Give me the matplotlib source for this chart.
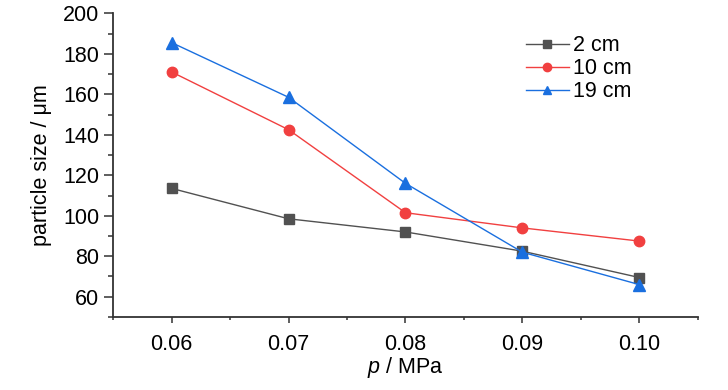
import matplotlib
matplotlib.use("Agg")
import matplotlib.pyplot as plt
from matplotlib.ticker import FixedLocator

plt.rcParams['font.family'] = ['Liberation Sans', 'DejaVu Sans']
plt.rcParams['mathtext.fontset'] = 'custom'
plt.rcParams['mathtext.it'] = 'Liberation Sans:italic'
plt.rcParams['mathtext.rm'] = 'Liberation Sans'

pressure = [0.06, 0.07, 0.08, 0.09, 0.10]
tick_labels = ["0.06", "0.07", "0.08", "0.09", "0.10"]
size_2cm = [113.5, 98.5, 92.0, 82.5, 69.5]
size_10cm = [171.0, 142.5, 101.5, 94.0, 87.5]
size_19cm = [185.5, 158.5, 116.0, 82.0, 66.0]
labels = ["2 cm", "10 cm", "19 cm"]

FS = 15.5

fig = plt.figure(figsize=(7.28, 3.9), dpi=100)
ax = fig.add_axes([0.1556, 0.1872, 0.9584 - 0.1556, 0.9659 - 0.1872])

ax.plot(pressure, size_2cm, color='#515151', marker='s', markersize=7, lw=1.0, label=labels[0])
ax.plot(pressure, size_10cm, color='#F14040', marker='o', markersize=7.5, lw=1.0, label=labels[1])
ax.plot(pressure, size_19cm, color='#1A6FDF', marker='^', markersize=8.5, lw=1.0, label=labels[2])

ax.set_xlim(0.055, 0.105)
ax.set_ylim(50, 200)
ax.xaxis.set_major_locator(FixedLocator(pressure))
ax.set_xticklabels(tick_labels)
ax.xaxis.set_minor_locator(FixedLocator([0.055, 0.065, 0.075, 0.085, 0.095, 0.105]))
ax.yaxis.set_major_locator(FixedLocator([60, 80, 100, 120, 140, 160, 180, 200]))
ax.yaxis.set_minor_locator(FixedLocator([50, 70, 90, 110, 130, 150, 170, 190]))

for s in ['top', 'right']:
    ax.spines[s].set_visible(False)
for s in ['left', 'bottom']:
    ax.spines[s].set_color('#333333')
    ax.spines[s].set_linewidth(1.3)

ax.tick_params(axis='x', which='major', direction='out', length=4.5, width=1.1, color='#333333', labelsize=FS, pad=8)
ax.tick_params(axis='x', which='minor', direction='out', length=2.5, width=1.1, color='#333333')
ax.tick_params(axis='y', which='major', direction='out', length=6.5, width=1.1, color='#333333', labelsize=FS, pad=3.5)
ax.tick_params(axis='y', which='minor', direction='out', length=3.6, width=1.1, color='#333333')

ax.set_xlabel(r'$\it{p}$ / MPa', fontsize=FS, labelpad=0)
ax.set_ylabel('particle size / μm', fontsize=FS, labelpad=8)

leg = ax.legend(loc='upper left', bbox_to_anchor=(0.706, 0.928), frameon=False, fontsize=FS,
                handlelength=2.0, handletextpad=0.2, labelspacing=0.1, borderaxespad=0,
                borderpad=0)
for h in leg.legend_handles:
    h.set_markersize(6)

fig.savefig('out.png', dpi=100)
